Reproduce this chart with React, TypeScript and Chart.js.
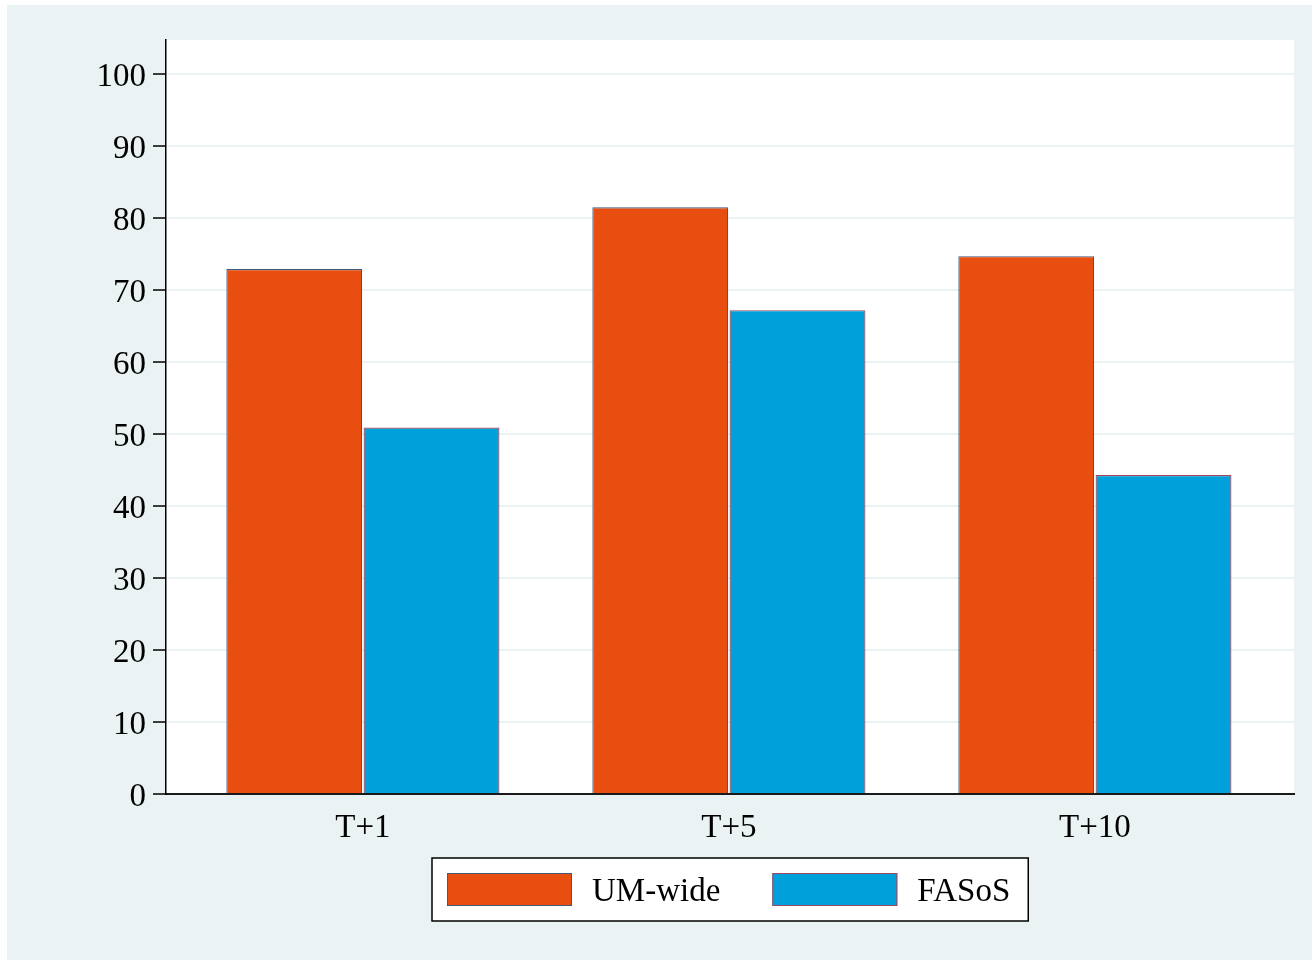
import React, { useEffect, useRef } from "react";
import { Chart, registerables } from "chart.js";

Chart.register(...registerables);

const categories = ["T+1", "T+5", "T+10"];
const umWide = [72.9, 81.5, 74.7];
const fasos = [50.9, 67.2, 44.3];
const seriesNames = ["UM-wide", "FASoS"];
const yTicks = [0, 10, 20, 30, 40, 50, 60, 70, 80, 90, 100];

const BG = "#EAF2F3";
const ORANGE = "#E84E10";
const BLUE = "#00A0DA";
const ORANGE_BORDER = "#3E5A7C";
const BLUE_BORDER = "#A0465E";
const FONT = '"Liberation Serif", "Times New Roman", serif';
const FS = 33;

const plotBg = {
  id: "plotBg",
  beforeDraw(chart: any) {
    const { ctx, chartArea: a } = chart;
    ctx.save();
    ctx.fillStyle = "#ffffff";
    ctx.fillRect(a.left, a.top, a.right - a.left, a.bottom - a.top);
    ctx.restore();
  },
};

const boxLegend = {
  id: "boxLegend",
  afterDraw(chart: any) {
    const { ctx, chartArea: a } = chart;
    ctx.save();
    ctx.font = `${FS}px ${FONT}`;
    const ds = chart.data.datasets;
    const widths = ds.map((d: any) => ctx.measureText(d.label).width);
    const padL = 15, sw = 125, sh = 33, gap = 20, itemGap = 52, padR = 18;
    let total = padL + padR;
    widths.forEach((w: number, i: number) => {
      total += sw + gap + w + (i < widths.length - 1 ? itemGap : 0);
    });
    const cx = (a.left + a.right) / 2;
    const left = Math.round(cx - total / 2);
    const top = a.bottom + 64;
    const h = 63;
    ctx.fillStyle = "#ffffff";
    ctx.fillRect(left, top, total, h);
    ctx.strokeStyle = "#000000";
    ctx.lineWidth = 1.5;
    ctx.strokeRect(left, top, total, h);
    let x = left + padL;
    ds.forEach((d: any, i: number) => {
      ctx.fillStyle = d.backgroundColor;
      ctx.fillRect(x, top + 15, sw, sh);
      ctx.strokeStyle = d.borderColor;
      ctx.lineWidth = 1;
      ctx.strokeRect(x + 0.5, top + 15.5, sw - 1, sh - 1);
      x += sw + gap;
      ctx.fillStyle = "#000000";
      ctx.textBaseline = "middle";
      ctx.textAlign = "left";
      ctx.fillText(d.label, x, top + 34);
      x += widths[i] + itemGap;
    });
    ctx.restore();
  },
};

export default function App() {
  const ref = useRef<HTMLCanvasElement | null>(null);

  useEffect(() => {
    if (!ref.current) return;
    const toPts = (vals: number[]) => vals.map((v, i) => ({ x: i, y: v }));
    const chart = new Chart(ref.current, {
      type: "bar",
      data: {
        datasets: [
          {
            label: seriesNames[0],
            data: toPts(umWide),
            backgroundColor: ORANGE,
            borderColor: ORANGE_BORDER,
            borderWidth: 1.2,
          },
          {
            label: seriesNames[1],
            data: toPts(fasos),
            backgroundColor: BLUE,
            borderColor: BLUE_BORDER,
            borderWidth: 1.2,
          },
        ],
      },
      options: {
        animation: false,
        responsive: true,
        maintainAspectRatio: false,
        categoryPercentage: 0.75,
        barPercentage: 0.99,
        layout: { padding: { left: 0, top: 35, right: 18, bottom: 106 } },
        plugins: {
          legend: { display: false },
          tooltip: { enabled: false },
        },
        scales: {
          x: {
            type: "linear",
            offset: false,
            min: -0.538,
            max: categories.length - 1 + 0.544,
            afterFit: (s: any) => {
              s.height = 60;
            },
            afterBuildTicks: (s: any) => {
              s.ticks = categories.map((_, i) => ({ value: i }));
            },
            ticks: {
              includeBounds: false,
              callback: (v: any) => categories[v] ?? "",
              font: { family: FONT, size: FS },
              color: "#000000",
              padding: 15,
              maxRotation: 0,
              autoSkip: false,
            },
            grid: { display: false, drawTicks: false, offset: false },
            border: { display: true, color: "#1a1a1a", width: 2 },
          },
          y: {
            min: 0,
            max: 104.72,
            afterFit: (s: any) => {
              s.width = 159;
            },
            afterBuildTicks: (s: any) => {
              s.ticks = yTicks.map((v) => ({ value: v }));
            },
            ticks: {
              includeBounds: false,
              font: { family: FONT, size: FS },
              color: "#000000",
              padding: 7,
              labelOffset: 3,
            },
            grid: {
              color: BG,
              lineWidth: 2,
              tickColor: "#000000",
              tickLength: 13,
              tickWidth: 1.5,
            },
            border: { display: true, color: "#000000", width: 1.5 },
          },
        },
      } as any,
      plugins: [plotBg, boxLegend],
    });
    return () => chart.destroy();
  }, []);

  return (
    <div
      style={{
        position: "fixed",
        left: 7,
        top: 5,
        width: 1305,
        height: 955,
        background: BG,
      }}
    >
      <canvas ref={ref} />
    </div>
  );
}
